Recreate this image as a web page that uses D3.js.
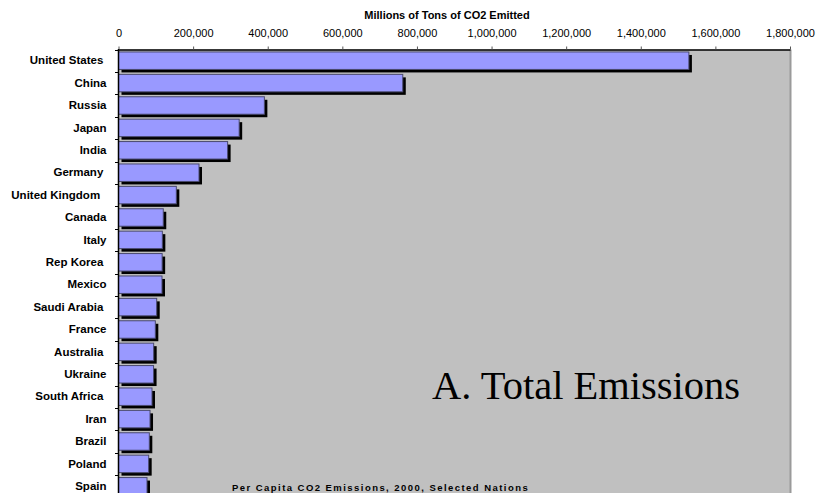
<!DOCTYPE html>
<html>
<head>
<meta charset="utf-8">
<script src="https://cdn.jsdelivr.net/npm/d3@7"></script>
<style>
  html, body { margin: 0; padding: 0; background: #fff; }
  svg { display: block; }
  text { font-family: Arial, "Liberation Sans", sans-serif; }
</style>
</head>
<body>
<svg id="chart" width="823" height="493"></svg>
<script>
// CO2 emitted in 2000 by nation (thousand tons, shown as "Millions of Tons")
const categories = [
  "United States ", "China", "Russia", "Japan", "India", "Germany ",
  "United Kingdom  ", "Canada", "Italy", "Rep Korea ", "Mexico",
  "Saudi Arabia ", "France", "Australia ", "Ukraine", "South Africa ",
  "Iran", "Brazil", "Poland", "Spain"
];
const emissions = [
  1529000, 762000, 391000, 323500, 292500, 215800,
  155000, 120000, 117500, 117000, 116600,
  102400, 98700, 94300, 94000, 89800,
  84500, 82600, 80900, 76400
];
const xTicks = [0, 200000, 400000, 600000, 800000, 1000000, 1200000, 1400000, 1600000, 1800000];

const svg = d3.select("#chart");

const plotLeft = 118.5, plotRight = 790, plotTop = 49.5, rowStep = 22.4;
const plotBottom = plotTop + rowStep * categories.length;

const x = d3.scaleLinear().domain([0, 1800000]).range([plotLeft, plotRight]);
const yRow = d3.scaleBand().domain(categories).range([plotTop, plotBottom]).padding(0);
const yBar = d3.scaleBand().domain(categories).range([plotTop, plotBottom])
  .paddingInner(0.22).paddingOuter(0.11);

// plot area background
svg.append("rect")
  .attr("x", plotLeft).attr("y", plotTop)
  .attr("width", plotRight - plotLeft).attr("height", plotBottom - plotTop)
  .attr("fill", "#c0c0c0");

// right border of the plot area
svg.append("line")
  .attr("x1", plotRight + 0.5).attr("x2", plotRight + 0.5)
  .attr("y1", plotTop).attr("y2", plotBottom)
  .attr("stroke", "#9a9a9a").attr("stroke-width", 2);

// bars: black drop shadow, then the bar itself
const bars = svg.append("g");
bars.selectAll("rect.shadow")
  .data(categories)
  .join("rect")
  .attr("class", "shadow")
  .attr("x", plotLeft + 3)
  .attr("y", (d) => yBar(d) + 3)
  .attr("width", (d, i) => x(emissions[i]) - plotLeft)
  .attr("height", yBar.bandwidth())
  .attr("fill", "#000");
bars.selectAll("rect.bar")
  .data(categories)
  .join("rect")
  .attr("class", "bar")
  .attr("x", plotLeft)
  .attr("y", (d) => yBar(d))
  .attr("width", (d, i) => x(emissions[i]) - plotLeft)
  .attr("height", yBar.bandwidth())
  .attr("fill", "#9999ff")
  .attr("stroke", "#4a4a6e")
  .attr("stroke-width", 1);

// top value axis
const xAxis = svg.append("g")
  .attr("transform", `translate(0,${plotTop})`)
  .call(d3.axisTop(x).tickValues(xTicks).tickFormat(d3.format(","))
    .tickSizeInner(3).tickSizeOuter(0).tickPadding(9.5));
xAxis.select(".domain").attr("stroke", "#000").attr("stroke-width", 1.5);
xAxis.selectAll(".tick line").attr("stroke", "#555");
xAxis.selectAll(".tick text")
  .attr("font-size", 11).attr("fill", "#000");

// category axis on the left
const yAxis = svg.append("g")
  .attr("transform", `translate(${plotLeft},0)`)
  .call(d3.axisLeft(yRow).tickSizeInner(0).tickSizeOuter(0).tickPadding(12));
yAxis.select(".domain").remove();
yAxis.selectAll(".tick text")
  .attr("xml:space", "preserve")
  .style("white-space", "pre")
  .attr("font-size", 11.5).attr("font-weight", "bold").attr("fill", "#000");

// category boundary ticks and the left axis line
svg.append("g").selectAll("line")
  .data(categories)
  .join("line")
  .attr("x1", plotLeft - 3.5).attr("x2", plotLeft)
  .attr("y1", (d) => Math.round(yRow(d)) + 0.5)
  .attr("y2", (d) => Math.round(yRow(d)) + 0.5)
  .attr("stroke", "#000");
svg.append("line")
  .attr("x1", plotLeft).attr("x2", plotLeft)
  .attr("y1", plotTop - 0.5).attr("y2", plotBottom)
  .attr("stroke", "#000").attr("stroke-width", 1.5);

// axis title
svg.append("text")
  .attr("x", 447).attr("y", 19)
  .attr("text-anchor", "middle")
  .attr("font-size", 11).attr("font-weight", "bold")
  .text("Millions of Tons of CO2 Emitted");

// panel label
svg.append("text")
  .attr("x", 432).attr("y", 399)
  .style("font-family", "'Times New Roman', 'Liberation Serif', serif")
  .attr("font-size", 40.5)
  .attr("fill", "#000")
  .text("A. Total Emissions");

// chart caption
svg.append("text")
  .attr("x", 232).attr("y", 491)
  .attr("font-size", 9.5).attr("font-weight", "bold")
  .attr("letter-spacing", 1.45)
  .text("Per Capita CO2 Emissions, 2000, Selected Nations");
</script>
</body>
</html>
